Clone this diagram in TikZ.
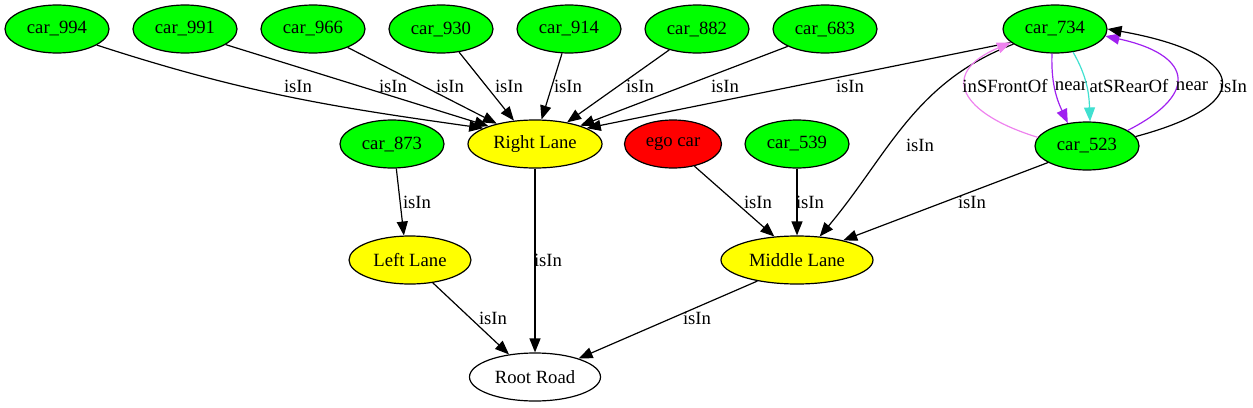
\documentclass[tikz,border=0pt]{standalone}
\usepackage{fontspec}
\setmainfont{Liberation Serif}
\usetikzlibrary{arrows.meta,shapes.geometric}
\definecolor{gvgreen}{HTML}{00FF00}
\definecolor{gvyellow}{HTML}{FFFF00}
\definecolor{gvred}{HTML}{FF0000}
\definecolor{gvviolet}{HTML}{EE82EE}
\definecolor{gvpurple}{HTML}{A020F0}
\definecolor{gvturq}{HTML}{40E0D0}
\begin{document}
\begin{tikzpicture}[x=1pt,y=1pt,
  every node/.style={font=\fontsize{18.67}{22}\selectfont},
  nd/.style={ellipse, draw, line width=1.2pt, minimum height=48pt, inner sep=0pt},
  car/.style={nd, fill=gvgreen, minimum width=104pt},
  lane/.style={nd, fill=gvyellow},
  e/.style={draw, line width=1.2pt, -{Triangle[length=14pt,width=11pt]}},
  lbl/.style={inner sep=0pt, text=black}
]
\useasboundingbox (0,0) rectangle (1253,-407);

% nodes
\node[car] (c994) at (57,-29) {car\_994};
\node[car] (c991) at (185,-29) {car\_991};
\node[car] (c966) at (313,-29) {car\_966};
\node[car] (c930) at (441,-29) {car\_930};
\node[car] (c914) at (569,-29) {car\_914};
\node[car] (c882) at (697,-29) {car\_882};
\node[car] (c683) at (825,-29) {car\_683};
\node[car] (c734) at (1055,-29) {car\_734};
\node[car] (c873) at (392,-144) {car\_873};
\node[lane, minimum width=134pt] (rl) at (535,-144) {Right Lane};
\node[nd, fill=gvred, minimum width=97pt] (ego) at (673,-144) {ego car};
\node[car] (c539) at (797,-144) {car\_539};
\node[car] (c523) at (1087,-146) {car\_523};
\node[lane, minimum width=122pt] (ll) at (410,-260) {Left Lane};
\node[lane, minimum width=152pt] (ml) at (797,-260) {Middle Lane};
\node[nd, minimum width=131pt] (rr) at (535,-377) {Root Road};

% edges into Right Lane
\draw[e] (c994.-22) to[out=-18,in=172] (rl.163) node[lbl] at (298,-86) {isIn};
\draw[e] (c991.-21) -- (rl.159) node[lbl] at (393,-86) {isIn};
\draw[e] (c966.-28) -- (rl.152) node[lbl] at (450,-86) {isIn};
\draw[e] (c930.-52) -- (rl.132) node[lbl] at (509,-86) {isIn};
\draw[e] (c914.-106) -- (rl.75) node[lbl] at (568,-86) {isIn};
\draw[e] (c882.-143) -- (rl.34) node[lbl] at (640,-86) {isIn};
\draw[e] (c683.-155) -- (rl.22) node[lbl] at (725,-86) {isIn};
\draw[e] (c734.197) -- (rl.17) node[lbl] at (850,-86) {isIn};

% lower edges
\draw[e] (c873.-80) -- (ll.104) node[lbl] at (417,-202) {isIn};
\draw[e] (rl.-90) -- (rr.90) node[lbl] at (548,-260) {isIn};
\draw[e] (ego.-46) -- (ml.134) node[lbl] at (758,-202) {isIn};
\draw[e] (c539.-90) -- (ml.90) node[lbl] at (810,-202) {isIn};
\draw[e] (c523.-157) -- (ml.23) node[lbl] at (972,-202) {isIn};
\draw[e] (c734.200) to[out=201,in=50] (ml.46) node[lbl] at (920,-145) {isIn};
\draw[e] (ll.-45) -- (rr.139) node[lbl] at (493,-318) {isIn};
\draw[e] (ml.-152) -- (rr.23) node[lbl] at (697,-318) {isIn};

% relations between car_734 and car_523
\draw[e, gvviolet] (c523.170) .. controls +(163:80) and +(203:80) .. (c734.197)
  node[lbl] at (1005,-86) {inSFrontOf};
\draw[e, gvpurple] (c734.-97) to[out=-92,in=115] (c523.130)
  node[lbl] at (1071,-86) {near};
\draw[e, gvturq] (c734.-52) to[out=-60,in=92] (c523.83)
  node[lbl] at (1129,-86) {atSRearOf};
\draw[e, gvpurple] (c523.21) .. controls +(27:85) and +(-12:85) .. (c734.-8)
  node[lbl] at (1192,-86) {near};
\draw[e] (c523.11) .. controls +(15:135) and +(-10:135) .. (c734.0)
  node[lbl] at (1233,-86) {isIn};
\end{tikzpicture}
\end{document}
